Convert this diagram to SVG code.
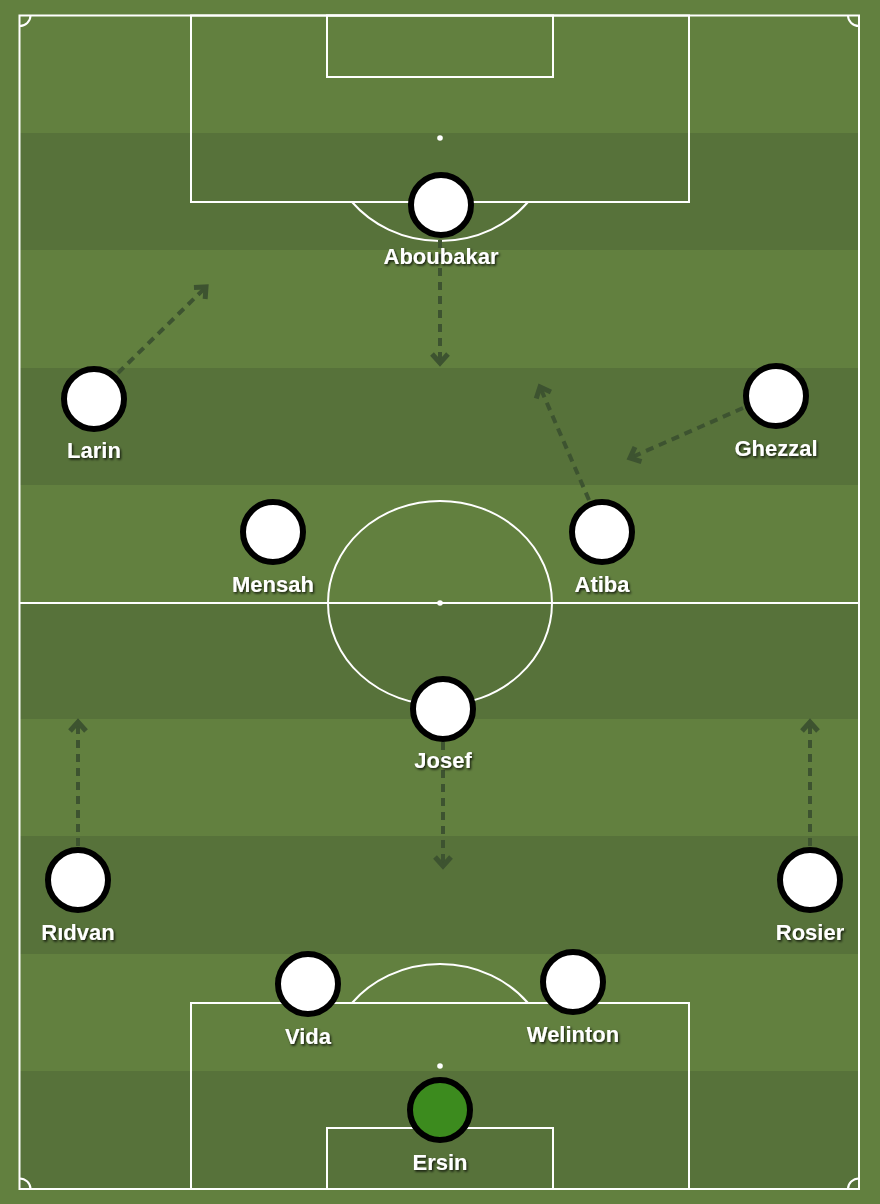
<svg xmlns="http://www.w3.org/2000/svg" width="880" height="1204" viewBox="0 0 880 1204">
<defs>
<style>
.light{fill:#62803f}
.dark{fill:#57723a}
.ln{fill:none;stroke:#ffffff;stroke-width:2}
.spot{fill:#ffffff}
.arrow{fill:none;stroke:#3d5330;stroke-width:4;stroke-dasharray:8 6}
.head{fill:none;stroke:#3d5330;stroke-width:5;stroke-linejoin:miter}
.pl{fill:#ffffff;stroke:#000000;stroke-width:6}
.gk{fill:#3c8b1e;stroke:#000000;stroke-width:6}
.lbl{font-family:"Liberation Sans",Arial,sans-serif;font-weight:bold;font-size:22px;fill:#ffffff;text-anchor:middle;filter:url(#sh)}
</style>
<filter id="sh" x="-20%" y="-40%" width="140%" height="180%">
<feDropShadow dx="1.3" dy="1.6" stdDeviation="0.8" flood-color="#000000" flood-opacity="0.8"/>
</filter>
<marker id="ah" viewBox="-14 -12 18 24" refX="0" refY="0" markerWidth="18" markerHeight="24" markerUnits="userSpaceOnUse" orient="auto">
<path class="head" d="M-9,-8 L0,0 L-9,8"/>
</marker>
</defs>
<g id="pitch">
<rect class="light" x="0" y="0" width="880" height="1204"/>
<rect class="dark" x="20" y="133" width="839" height="117"/>
<rect class="dark" x="20" y="368" width="839" height="117"/>
<rect class="dark" x="20" y="602" width="839" height="117"/>
<rect class="dark" x="20" y="836" width="839" height="118"/>
<rect class="dark" x="20" y="1071" width="839" height="118"/>
<rect class="ln" x="19.5" y="15.5" width="839.5" height="1173.5"/>
<line class="ln" x1="19.5" y1="603" x2="859" y2="603"/>
<ellipse class="ln" cx="440" cy="603" rx="112" ry="102"/>
<circle class="spot" cx="440" cy="603" r="2.8"/>
<rect class="ln" x="191" y="15.5" width="498" height="186.5"/>
<rect class="ln" x="327" y="15.5" width="226" height="61.5"/>
<circle class="spot" cx="440" cy="138" r="2.8"/>
<path class="ln" d="M352,202 A112,102 0 0 0 528,202"/>
<rect class="ln" x="191" y="1003" width="498" height="186"/>
<rect class="ln" x="327" y="1128" width="226" height="61"/>
<circle class="spot" cx="440" cy="1066" r="2.8"/>
<path class="ln" d="M352,1003 A112,102 0 0 1 528,1003"/>
<path class="ln" d="M19.5,26 A11,10.5 0 0 0 30.5,15.5"/>
<path class="ln" d="M848,15.5 A11,10.5 0 0 0 859,26"/>
<path class="ln" d="M19.5,1178.5 A11,10.5 0 0 1 30.5,1189"/>
<path class="ln" d="M848,1189 A11,10.5 0 0 1 859,1178.5"/>
</g>
<g id="connectors">
<line class="arrow" x1="118" y1="373" x2="206" y2="287" marker-end="url(#ah)"/>
<line class="arrow" x1="440" y1="240" x2="440" y2="363" marker-end="url(#ah)"/>
<line class="arrow" x1="743" y1="408" x2="630" y2="458" marker-end="url(#ah)"/>
<line class="arrow" x1="589" y1="500" x2="540" y2="387" marker-end="url(#ah)"/>
<line class="arrow" x1="443" y1="742" x2="443" y2="866" marker-end="url(#ah)"/>
<line class="arrow" x1="78" y1="846" x2="78" y2="722" marker-end="url(#ah)"/>
<line class="arrow" x1="810" y1="846" x2="810" y2="722" marker-end="url(#ah)"/>
</g>
<g id="aboubakar"><circle class="pl" cx="441" cy="205" r="30"/><text class="lbl" x="441" y="264">Aboubakar</text></g>
<g id="larin"><circle class="pl" cx="94" cy="399" r="30"/><text class="lbl" x="94" y="458">Larin</text></g>
<g id="ghezzal"><circle class="pl" cx="776" cy="396" r="30"/><text class="lbl" x="776" y="456">Ghezzal</text></g>
<g id="mensah"><circle class="pl" cx="273" cy="532" r="30"/><text class="lbl" x="273" y="592">Mensah</text></g>
<g id="atiba"><circle class="pl" cx="602" cy="532" r="30"/><text class="lbl" x="602" y="592">Atiba</text></g>
<g id="josef"><circle class="pl" cx="443" cy="709" r="30"/><text class="lbl" x="443" y="768">Josef</text></g>
<g id="ridvan"><circle class="pl" cx="78" cy="880" r="30"/><text class="lbl" x="78" y="940">Rıdvan</text></g>
<g id="rosier"><circle class="pl" cx="810" cy="880" r="30"/><text class="lbl" x="810" y="940">Rosier</text></g>
<g id="vida"><circle class="pl" cx="308" cy="984" r="30"/><text class="lbl" x="308" y="1044">Vida</text></g>
<g id="welinton"><circle class="pl" cx="573" cy="982" r="30"/><text class="lbl" x="573" y="1042">Welinton</text></g>
<g id="ersin"><circle class="gk" cx="440" cy="1110" r="30"/><text class="lbl" x="440" y="1170">Ersin</text></g>
</svg>
